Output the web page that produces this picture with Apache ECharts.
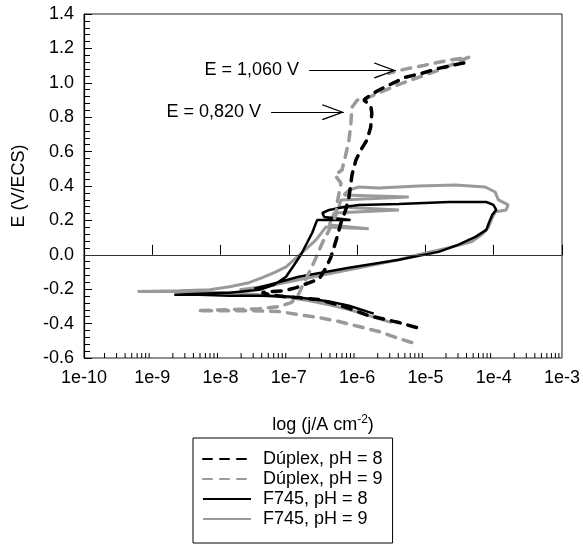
<!DOCTYPE html>
<html>
<head>
<meta charset="utf-8">
<script src="https://cdn.jsdelivr.net/npm/echarts@6/dist/echarts.min.js"></script>
<style>
html, body { margin: 0; padding: 0; background: #fff; }
#chart { width: 583px; height: 548px; }
</style>
</head>
<body>
<div id="chart"></div>
<script>
// j (A cm-2), E (V/ECS) pairs
var duplexPH8 = [
  [7.4e-6, -0.423], [4.1e-6, -0.394], [1.48e-6, -0.354], [6.4e-7, -0.301], [2.8e-7, -0.261],
  [1.4e-7, -0.249], [8.5e-8, -0.243], [5.2e-8, -0.232], [4.0e-8, -0.22],
  [5.2e-8, -0.214], [8.5e-8, -0.209], [1.28e-7, -0.191], [2.0e-7, -0.162], [2.8e-7, -0.139],
  [3.5e-7, -0.075], [4.1e-7, -0.017], [4.6e-7, 0.046], [5.1e-7, 0.104], [5.8e-7, 0.186],
  [6.8e-7, 0.261], [7.6e-7, 0.336], [8.1e-7, 0.417], [8.4e-7, 0.464], [9.6e-7, 0.551],
  [1.13e-6, 0.609], [1.39e-6, 0.667], [1.58e-6, 0.742], [1.64e-6, 0.823], [1.58e-6, 0.87],
  [1.25e-6, 0.899], [1.48e-6, 0.922], [2.07e-6, 0.957], [2.9e-6, 0.986], [5.1e-6, 1.032],
  [8.8e-6, 1.055], [1.56e-5, 1.084], [3.4e-5, 1.113], [4.0e-5, 1.119]
];
var duplexPH9 = [
  [6.3e-6, -0.51], [3.7e-6, -0.481], [2.07e-6, -0.446], [1.06e-6, -0.417], [5.4e-7, -0.388],
  [2.8e-7, -0.365], [1.4e-7, -0.348], [7.2e-8, -0.33], [2.6e-8, -0.325], [9.6e-9, -0.325],
  [4.6e-9, -0.325], [1.35e-8, -0.319], [3.7e-8, -0.313], [7.2e-8, -0.301], [1.08e-7, -0.278],
  [1.32e-7, -0.249], [1.56e-7, -0.186], [2.0e-7, -0.099], [2.5e-7, -0.017], [3.1e-7, 0.07],
  [3.9e-7, 0.145], [4.9e-7, 0.232], [5.1e-7, 0.301], [5.8e-7, 0.417], [4.7e-7, 0.464],
  [6.0e-7, 0.493], [6.8e-7, 0.58], [7.6e-7, 0.667], [8.1e-7, 0.765], [8.4e-7, 0.858],
  [1.0e-6, 0.899], [1.34e-6, 0.91], [1.87e-6, 0.933], [2.6e-6, 0.957], [4.1e-6, 0.991],
  [7.9e-6, 1.032], [1.84e-5, 1.084], [3.9e-5, 1.142], [4.3e-5, 1.148],
  [2.6e-5, 1.136], [1.56e-5, 1.119], [9.4e-6, 1.101], [5.7e-6, 1.084], [3.7e-6, 1.067], [2.9e-6, 1.055]
];
var f745PH8 = [
  [1.75e-6, -0.342], [7.6e-7, -0.296], [3.9e-7, -0.272], [2.0e-7, -0.255], [1.0e-7, -0.243],
  [3.7e-8, -0.238], [1.35e-8, -0.238], [4.9e-9, -0.232], [2.1e-9, -0.232],
  [4.9e-9, -0.226], [1.35e-8, -0.22], [3.7e-8, -0.203], [6.1e-8, -0.174], [9.1e-8, -0.128],
  [1.2e-7, -0.058], [1.5e-7, 0.0], [1.85e-7, 0.07], [2.2e-7, 0.128], [2.6e-7, 0.203],
  [8.0e-7, 0.203], [3.3e-7, 0.22], [3.1e-7, 0.243], [3.9e-7, 0.261], [6.4e-7, 0.278],
  [1.06e-6, 0.29], [4.1e-6, 0.296], [2.2e-5, 0.307], [7.8e-5, 0.307], [9.9e-5, 0.29],
  [1.09e-4, 0.261], [9.5e-5, 0.232], [8.6e-5, 0.191], [7.8e-5, 0.145], [5.4e-5, 0.104],
  [3.0e-5, 0.058], [1.56e-5, 0.017], [4.1e-6, -0.029], [7.6e-7, -0.075], [1.4e-7, -0.128],
  [8.5e-8, -0.151], [5.2e-8, -0.174], [3.1e-8, -0.197]
];
var f745PH9 = [
  [3.2e-6, -0.394], [1.48e-6, -0.354], [7.6e-7, -0.319], [3.9e-7, -0.29], [2.0e-7, -0.267],
  [1.0e-7, -0.249], [3.7e-8, -0.232], [1.35e-8, -0.22], [2.5e-9, -0.214], [6.1e-10, -0.214],
  [2.5e-9, -0.209], [6.9e-9, -0.203], [1.35e-8, -0.186], [2.6e-8, -0.162], [4.1e-8, -0.133],
  [6.1e-8, -0.104], [9.1e-8, -0.07], [1.56e-7, 0.012], [2.5e-7, 0.087], [3.5e-7, 0.162],
  [1.48e-6, 0.151], [3.9e-7, 0.174], [4.6e-7, 0.243], [4.1e-6, 0.261], [5.4e-7, 0.278],
  [5.8e-7, 0.319], [5.7e-6, 0.336], [6.4e-7, 0.348], [7.6e-7, 0.377], [1.06e-6, 0.394],
  [2.07e-6, 0.388], [7.9e-6, 0.4], [2.75e-5, 0.406], [7.5e-5, 0.394], [1.05e-4, 0.365],
  [1.17e-4, 0.319], [1.63e-4, 0.29], [1.52e-4, 0.261], [1.05e-4, 0.249], [9.2e-5, 0.203],
  [8.3e-5, 0.157], [6.6e-5, 0.116], [4.7e-5, 0.075], [2.2e-5, 0.041], [7.9e-6, 0.0],
  [4.1e-6, -0.029], [7.6e-7, -0.087], [1.4e-7, -0.145], [5.2e-8, -0.18], [1.9e-8, -0.203]
];

var seriesNames = ['Dúplex, pH = 8', 'Dúplex, pH = 9', 'F745, pH = 8', 'F745, pH = 9'];
var xTickLabels = ['1e-10', '1e-9', '1e-8', '1e-7', '1e-6', '1e-5', '1e-4', '1e-3'];
var decades = [1e-10, 1e-9, 1e-8, 1e-7, 1e-6, 1e-5, 1e-4];

// annotation arrows: [start j, end j, E, text]
var arrows = [
  [1.98e-7, 3.7e-6, 1.072, 'E = 1,060 V'],
  [5.5e-8, 6.4e-7, 0.829, 'E = 0,820 V']
];

var minorTicks = [];
decades.forEach(function (d) {
  for (var k = 2; k <= 9; k++) minorTicks.push([k * d, -0.6]);
});

var FONT = "'Liberation Sans', Arial, sans-serif";
var GRAY = '#9a9a9a';
var arrowHead = 'path://M10,0 L10.01,0 L10,0.01 Z M10,22 L20,44 L18.6,44.8 L10,25.5 L1.4,44.8 L0,44 Z';

var myChart = echarts.init(document.getElementById('chart'));

var option = {
  animation: false,
  backgroundColor: '#fff',
  textStyle: { fontFamily: FONT },
  grid: {
    left: 84, right: 19, top: 14, bottom: 190,
    show: true, borderColor: '#222', borderWidth: 1
  },
  legend: {
    orient: 'vertical',
    left: 193, top: 438,
    data: seriesNames,
    itemWidth: 48, itemHeight: 14, itemGap: 2,
    padding: [12, 10, 15, 9],
    borderColor: '#000', borderWidth: 1, borderRadius: 0,
    itemStyle: { opacity: 0 },
    textStyle: { fontFamily: FONT, fontSize: 18, color: '#000', padding: [0, 0, 0, 7] }
  },
  xAxis: {
    type: 'log', logBase: 10,
    min: 1e-10, max: 1e-3, splitNumber: 7,
    name: 'log (j/A cm{sup|-2})',
    nameLocation: 'middle', nameGap: 56,
    nameTextStyle: {
      fontFamily: FONT, fontSize: 18, color: '#000',
      rich: { sup: { fontFamily: FONT, fontSize: 12, verticalAlign: 'bottom', padding: [0, 0, 10, 0], color: '#000' } }
    },
    axisLine: { lineStyle: { color: '#000', width: 1.2 } },
    axisTick: { inside: true, length: 10, lineStyle: { color: '#000' } },
    axisLabel: {
      fontSize: 18, color: '#000', margin: 11,
      formatter: function (v) {
        var i = Math.round(Math.log10(v)) + 10;
        return xTickLabels[i];
      }
    },
    splitLine: { show: false }
  },
  yAxis: {
    type: 'value',
    min: -0.6, max: 1.4, interval: 0.2,
    name: 'E (V/ECS)',
    nameLocation: 'middle', nameGap: 56,
    nameTextStyle: { fontFamily: FONT, fontSize: 18, color: '#000' },
    axisLine: { show: true, lineStyle: { color: '#000', width: 1.2 } },
    axisTick: { inside: true, length: 8, lineStyle: { color: '#000' } },
    minorTick: { show: true, splitNumber: 5, length: 6, lineStyle: { color: '#000' } },
    axisLabel: {
      fontSize: 18, color: '#000', margin: 10,
      formatter: function (v) { return v.toFixed(1); }
    },
    splitLine: { show: false }
  },
  series: [
    {
      name: 'F745, pH = 9', type: 'line', data: f745PH9,
      symbol: 'none', color: GRAY,
      lineStyle: { color: GRAY, width: 3 },
      markLine: {
        silent: true, symbol: 'none',
        lineStyle: { color: '#333', width: 1, type: 'solid' },
        label: { show: false },
        data: [{ yAxis: 0 }]
      }
    },
    {
      name: 'F745, pH = 8', type: 'line', data: f745PH8,
      symbol: 'none', color: '#000',
      lineStyle: { color: '#000', width: 2.5 }
    },
    {
      name: 'Dúplex, pH = 9', type: 'line', data: duplexPH9,
      symbol: 'none', color: GRAY,
      lineStyle: { color: GRAY, width: 3.5, type: [9, 8], cap: 'round' }
    },
    {
      name: 'Dúplex, pH = 8', type: 'line', data: duplexPH8,
      symbol: 'none', color: '#000',
      lineStyle: { color: '#000', width: 3.5, type: [9, 8], cap: 'round' },
      markLine: {
        silent: true,
        symbol: ['none', arrowHead],
        symbolSize: [16, 44],
        lineStyle: { color: '#000', width: 1, type: 'solid' },
        label: {
          show: true, position: 'start', distance: 10,
          fontFamily: FONT, fontSize: 18, color: '#000',
          formatter: function (p) { return p.name; }
        },
        itemStyle: { color: '#000' },
        data: arrows.map(function (a) {
          return [
            { name: a[3], coord: [a[0], a[2]] },
            { coord: [a[1], a[2]] }
          ];
        })
      }
    },
    {
      type: 'custom', data: minorTicks, silent: true, clip: false,
      encode: { x: 0, y: 1 },
      renderItem: function (params, api) {
        var p = api.coord([api.value(0), api.value(1)]);
        return {
          type: 'line',
          shape: { x1: p[0], y1: p[1], x2: p[0], y2: p[1] - 5 },
          style: { stroke: '#000', lineWidth: 1 }
        };
      }
    }
  ]
};

myChart.setOption(option);
</script>
</body>
</html>
